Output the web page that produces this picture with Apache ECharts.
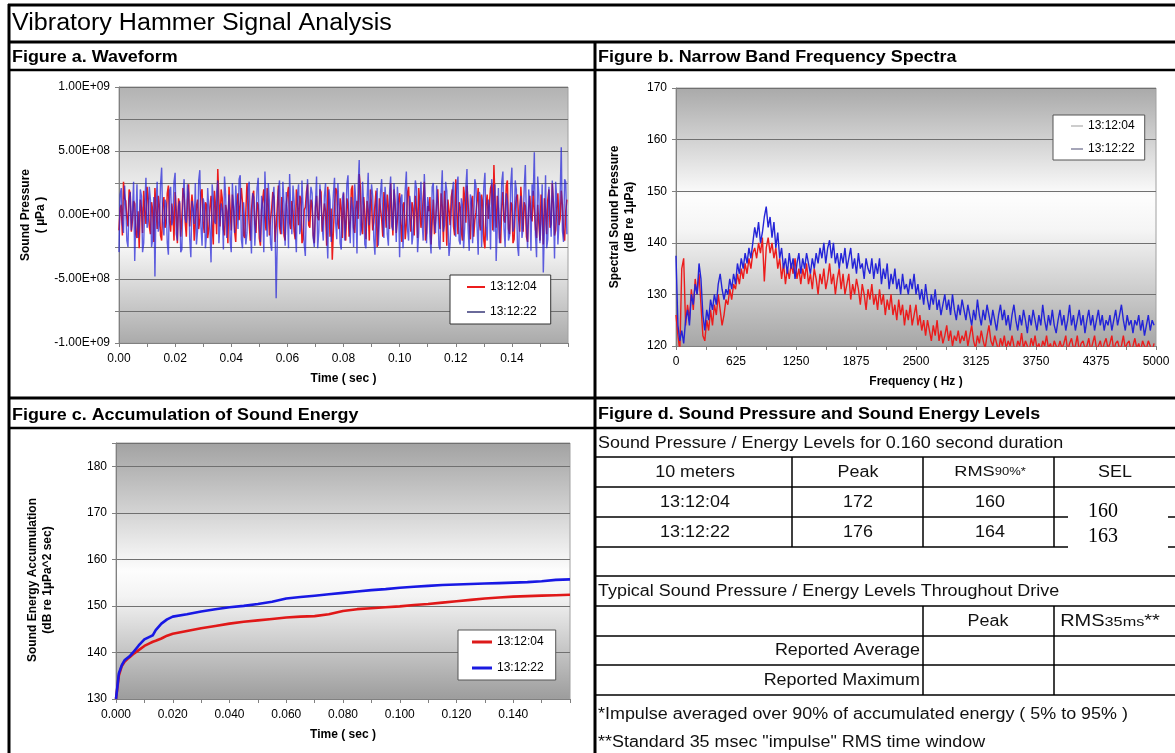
<!DOCTYPE html>
<html><head><meta charset="utf-8">
<script src="https://cdn.jsdelivr.net/npm/echarts@6/dist/echarts.min.js"></script>
<style>html,body{margin:0;padding:0;background:#fff;}#c{width:1175px;height:753px;}</style>
</head><body><div id="c"></div>
<script>
// ---------------- DATA ----------------
const seriesNames = ['13:12:04', '13:12:22'];

// Figure a: waveform, sound pressure in units of 1e8 µPa.
// Samples every 0.0004 s: "even" samples and the "mid" samples between them.
const waveDt = 0.0004;
const waveUnit = 1e8;
const waveRed = [
-1.2,0.8,2.6,1.1,-0.9,1.7,-0.4,0.9,-1.8,-2.6,0.6,1.9,-0.7,1.3,-1.5,0.4,2.1,-1.1,0.7,-2.0,
1.4,-0.6,2.3,-1.3,0.2,1.8,-2.2,0.9,-0.3,1.6,-1.7,2.4,-0.8,0.5,-1.9,1.2,-0.4,2.0,-1.4,0.8,
-1.1,1.5,-2.3,0.7,3.6,-0.9,1.3,-1.6,0.3,2.2,-1.2,0.6,-2.1,1.7,-0.5,1.0,-1.8,2.5,-0.7,0.4,
1.9,-1.4,0.8,-2.4,1.2,-0.3,2.1,-1.6,0.5,1.4,-0.9,2.3,-1.5,0.2,-2.0,1.6,-0.6,1.1,-1.3,2.0,
-0.8,1.3,-1.9,0.6,2.4,-1.0,0.9,-2.2,1.5,-0.4,1.8,-1.3,0.3,2.2,-1.7,-3.5,0.7,1.9,-1.1,0.5,
1.7,-2.0,0.9,-0.6,2.3,-1.4,1.1,3.2,-0.8,1.4,-1.9,0.4,2.0,-1.2,0.8,-2.5,1.3,-0.3,1.8,-1.0,
0.6,2.5,-1.6,0.9,-0.4,1.7,-2.1,1.0,-0.7,2.2,-1.3,0.5,1.5,-1.8,0.8,-0.2,2.6,-1.4,0.3,-2.3,
1.2,-0.5,2.0,-1.1,0.7,1.9,-2.4,0.4,1.4,-0.9,2.8,-1.5,0.6,-2.0,1.3,2.3,-0.8,1.0,-1.7,0.2,
2.1,-1.2,0.9,-2.6,1.6,-0.4,2.4,3.9,-1.0,0.5,-2.2,1.8,-0.6,2.7,-1.5,0.8,-1.9,1.4,-0.3,2.2,
-1.3,0.7,-2.1,1.5,-0.5,2.0,-1.8,0.9,1.6,-2.3,0.4,1.2,-1.0,2.5,-1.6,0.6,-0.8,1.9,-1.4,0.3
];
const waveRedMid = [
0.5,-1.6,1.3,-0.2,2.0,-1.3,1.1,-1.5,0.3,1.2,-1.4,0.2,2.2,-0.9,1.0,-2.1,0.5,1.5,-1.6,0.9,
-1.0,1.7,-0.5,0.9,-2.0,0.4,1.3,-1.7,2.1,-0.6,1.1,-0.9,1.6,-2.0,0.7,-1.1,1.8,-0.6,1.0,-1.8,
0.6,-0.8,1.9,-1.5,1.2,2.0,-1.1,0.8,-2.2,0.5,1.6,-1.3,0.9,-0.4,2.1,-1.6,0.3,1.1,-2.0,1.5,
-0.7,1.0,-1.8,0.4,2.0,-1.2,0.7,-0.3,1.8,-2.1,0.6,-0.9,1.4,-1.6,0.8,2.2,-1.1,0.3,-1.9,0.9,
1.5,-2.2,0.4,1.8,-0.8,1.2,-1.6,0.6,-0.2,2.0,-1.3,0.9,-2.4,1.0,0.5,-1.2,2.1,-0.7,1.3,-1.8,
-0.4,1.3,-1.7,2.0,-1.0,0.6,-0.3,2.2,-1.5,0.2,1.1,-2.0,0.8,-0.6,1.9,-1.2,0.4,-1.7,0.9,1.6,
-1.1,0.3,2.0,-1.4,1.2,-0.7,0.8,-1.9,1.7,-0.2,1.0,-1.6,0.5,2.1,-1.0,1.3,-2.0,0.7,1.4,-0.5,
-1.5,0.9,-0.3,1.7,-2.1,0.6,1.2,-0.8,2.0,-1.6,0.4,1.0,-1.3,2.2,-0.6,0.9,-1.9,1.5,-0.4,1.1,
-0.6,1.6,-2.0,0.8,-0.3,2.1,-1.2,0.9,1.5,-1.8,0.7,-0.4,2.3,-1.1,1.0,-2.2,0.5,1.6,-1.3,0.6,
1.0,-1.7,0.6,-0.2,1.9,-1.1,0.8,-2.0,0.4,1.3,-1.5,2.0,-0.7,0.9,-1.2,1.7,-0.3,0.8,-2.0,1.2
];
const waveBlue = [
-2.9,2.1,-1.4,0.6,-2.5,1.8,0.3,-3.6,2.4,-0.9,1.5,-2.2,2.9,-0.5,1.2,-1.9,-4.8,2.6,-0.8,3.7,
-1.6,0.9,-3.1,2.2,-0.4,3.3,-2.0,1.1,-2.7,2.8,-0.6,1.7,-3.3,0.5,2.5,-1.2,3.5,-2.4,0.8,-1.5,
2.0,-3.7,1.3,-0.7,2.7,-2.3,0.4,3.0,-1.8,1.6,-2.9,0.7,2.3,-1.1,3.1,-2.6,0.9,-1.4,2.6,-3.0,
1.4,-0.5,2.9,-2.1,0.6,3.4,-1.7,1.0,-2.8,2.2,-6.5,1.9,-0.8,2.6,-2.4,0.3,3.2,-1.5,1.1,-2.9,
2.4,-1.0,0.5,-3.2,2.8,-0.6,1.7,-2.5,3.0,-1.3,0.8,-2.0,2.5,-3.4,1.2,-0.4,2.9,-1.9,0.6,-2.7,
1.8,-0.9,3.1,-2.2,0.5,2.4,-3.0,4.3,-1.1,0.7,-2.6,3.3,-0.7,1.5,-3.1,2.1,-0.3,2.8,-1.8,0.9,
-2.4,3.0,-1.2,0.4,2.2,-3.3,1.6,-0.6,3.4,-2.0,0.8,-1.5,2.7,-2.9,1.0,-0.5,3.2,-2.2,0.6,-3.0,
2.5,-1.4,0.9,-2.7,3.5,-0.8,1.9,-3.2,0.4,2.6,-1.7,3.0,-2.3,0.7,-1.0,3.6,-2.8,1.2,-0.5,2.3,
-3.1,1.4,-0.7,3.3,-2.0,0.6,2.8,-1.3,-3.6,2.1,-0.4,3.4,-2.5,1.0,-1.6,3.7,-0.9,2.0,-3.2,1.5,
-1.0,3.9,-2.6,0.8,2.4,4.9,-3.3,1.6,-0.7,-4.5,3.1,-1.9,0.5,2.7,-3.4,1.3,-0.6,5.3,-2.1,2.6
];
const waveBlueMid = [
1.6,-0.7,2.3,-2.0,1.1,-1.2,2.6,-0.4,-1.8,2.0,-2.9,0.8,-1.0,2.2,-2.5,1.4,0.9,-1.3,2.4,-0.6,
1.2,-2.2,1.9,-0.8,2.6,-1.5,0.7,-2.9,1.5,-0.3,2.4,-1.9,1.1,-0.7,-2.3,2.7,-0.9,1.3,-2.6,2.1,
-1.1,2.4,-0.5,1.8,-2.2,0.9,-2.7,1.6,-0.2,-2.0,2.5,-1.4,0.6,2.8,-1.9,1.0,-2.3,2.1,-0.8,1.7,
-2.4,2.1,-1.0,1.5,-2.9,0.8,2.5,-2.2,1.2,-0.7,-2.1,2.7,-1.5,0.9,1.8,-2.6,0.4,2.3,-1.2,1.6,
-1.5,2.7,-2.3,1.1,-0.5,2.2,-1.8,0.9,-2.6,2.4,-0.9,1.5,-1.2,2.0,-2.1,1.7,-0.6,2.5,-2.2,1.3,
-2.0,2.4,-0.5,1.4,-2.5,1.0,2.1,-1.6,2.6,-2.3,1.2,-0.8,2.4,-1.9,0.7,-2.4,1.8,-0.6,2.2,-1.5,
1.7,-0.9,2.5,-2.1,0.8,1.3,-2.6,2.0,-1.1,1.5,-2.3,0.6,2.1,-1.4,2.6,-2.0,0.9,1.4,-1.7,2.2,
-0.7,2.3,-2.4,1.6,-1.3,2.6,-0.6,-2.2,1.9,-0.8,2.4,-2.0,1.3,-2.6,2.2,-1.1,1.6,-2.2,2.8,-0.9,
1.8,-2.5,2.2,-0.9,1.2,-2.7,1.5,2.4,-1.0,-2.2,2.6,-1.1,1.7,-2.0,2.4,-1.3,2.7,-2.4,0.7,-1.8,
2.2,-0.6,2.0,-2.8,1.5,-1.6,3.0,-2.2,2.4,-1.1,-2.6,2.2,-1.7,1.0,2.6,-2.3,1.6,-1.2,2.8,-1.5
];

// Figure b: narrow band spectra (dB re 1µPa), frequency step 20 Hz from 0 Hz
const specDf = 20;
const specRed = [
126,122,119,135,137,124,128,125,131,127,133,130,134,128,122,121,125,123,127,124,128,126,130,127,124,
126,129,128,131,129,132,131,134,132,135,133,136,134,137,135,138,139,137,140,138,141,132.5,139,141,138,
140,137,139,135,137,133,136,132,135,133,136,134,137,133,135,132,135,133,136,132,134,131,135,133,130,
134,132,135,131,133,136,132,134,130,133,135,131,134,130,132,134,129,132,130,133,131,128,132,130,127,
131,129,132,128,130,127,131,128,130,126,129,127,130,126,128,125,129,126,128,124,127,125,128,124,126,
128,124,126,123,125,122,125,123,121,124,122,125,121,123,120.5,122,124,121,123,120,122,121,123,120.5,122,
121,123,120,122,124,121,119.5,122,120.5,123,121,119.5,122,124,121,120,122,120.5,119,121.5,120,122,119.5,121,120,
122,120,119,121,120,122.5,119.5,121,120,119,121.5,120,122,119.5,120.5,119,121,120,122,119.5,120.5,119,121,120,119.5,
121,119.5,120.5,122,119,120.5,121.5,119.5,120,122,119,120.5,121,119.5,120,121.5,119,120.5,122,119.5,120,121,119,120.5,121.5,
119.5,120.5,122,119,120.5,121,119.5,120,122,119.5,120.5,121,119,120,121.5,119.5,120.5,119,121,120,119.5,121,120,119,120.5
];
const specBlue = [
137.5,124,121,123,120.5,125,127,124,130,128,132,130,136,133,126,123,127,125,129,127,130,128,132,134,131,
129,131,130,133,131,134,132,136,134,137,135,138,136,139,137,140,143,141,144,140,142,145,147,143,145,
141,144,139,142,137,139,135,137,134,138,135,137,133,136,138,134,137,135,138,136,134,137,135,138,136,
139,137,140,136,139,140.5,137,140,136,138,135,138,136,139,135,137,139,135,137,134,138,135,136,133,137,
135,134,137,133,136,134,137,132,135,133,136,131,134,132,135,131,133,130,134,131,132,130,133,131,134,
130,132,129,131,128,132,129,127,130,128,131,127,129,126,128,130,127,129,126,130,127,125,128,126,129,
127,125,128,126,124,127,125,129,126,124,127,125,128,126,124,127,125,123,126,128,125,127,124,126,123,
126,128,125,123,126,124,127,125,122.5,126,124,127,125,123,126,124,128,125,123,126,124,127,124,122.5,125,
127,124,126,123,125,128,124,126,123,125,127,124,126,122.5,125,127,124,126,123,125,127,124,126,123,125,
124,126,123,125,127,124,126,128,125,123,126,124,125,122.5,125,124,126,123,125,122,124,126,123,125,124
];

// Figure c: accumulated sound energy (dB re 1µPa^2 sec)
const energyTime = [0,0.001,0.002,0.003,0.004,0.005,0.006,0.008,0.010,0.012,0.013,0.014,0.016,0.018,0.020,
0.025,0.030,0.035,0.040,0.045,0.050,0.055,0.060,0.065,0.070,0.075,0.080,0.085,0.090,0.095,0.100,
0.105,0.110,0.115,0.120,0.125,0.130,0.135,0.140,0.145,0.150,0.155,0.160];
const energyRed = [130,135,137,138,138.6,139.1,139.6,140.5,141.4,142.0,142.3,142.5,143.0,143.6,144.0,
144.6,145.2,145.7,146.2,146.6,146.9,147.2,147.5,147.7,147.8,148.2,148.9,149.3,149.5,149.7,149.9,
150.2,150.4,150.7,151.0,151.3,151.6,151.8,152.0,152.1,152.2,152.3,152.4];
const energyBlue = [130,135.5,137.2,138.3,138.8,139.3,140.0,141.5,142.8,143.4,143.7,144.8,146.2,147.1,147.7,
148.2,148.8,149.3,149.7,150.0,150.4,150.9,151.6,151.9,152.2,152.5,152.8,153.1,153.4,153.6,153.9,
154.1,154.3,154.5,154.6,154.7,154.8,154.9,155.0,155.1,155.3,155.6,155.7];

// Figure d: table
const tableDuration = '0.160';
const tableHeader = ['10 meters', 'Peak', 'RMS', 'SEL'];
const tableRowNames = ['13:12:04', '13:12:22'];
const tablePeak = ['172', '176'];
const tableRms = ['160', '164'];
const tableSel = ['160', '163'];

// ---------------- CHART ----------------
const FF = '"Liberation Sans", Arial, sans-serif';
const RED = '#ec1c1c', BLUE = '#2424d8';
const chart = echarts.init(document.getElementById('c'), null, {renderer: 'canvas'});

function grad(stops) {
  return {type: 'linear', x: 0, y: 0, x2: 0, y2: 1, colorStops: stops.map(s => ({offset: s[0], color: s[1]}))};
}
function expFmt(v) {
  if (Math.abs(v) < 1) return '0.00E+00';
  const e = Math.floor(Math.log10(Math.abs(v)) + 1e-9);
  const m = v / Math.pow(10, e);
  return m.toFixed(2) + 'E+' + String(e).padStart(2, '0');
}
function interleave(a, b) {
  const out = [];
  for (let i = 0; i < a.length; i++) {
    out.push([2 * i * waveDt, a[i] * waveUnit]);
    out.push([(2 * i + 1) * waveDt, b[i] * waveUnit]);
  }
  return out;
}
function xAxis(gi, min, max, interval, fmt, name) {
  return {type: 'value', gridIndex: gi, min, max, interval, name, nameLocation: 'middle', nameGap: 30,
    nameTextStyle: {fontWeight: 'bold', fontSize: 12, color: '#000', fontFamily: FF},
    axisLine: {show: true, onZero: false, lineStyle: {color: '#808080', width: 1}},
    axisTick: {show: true, length: 4, lineStyle: {color: '#808080'}},
    axisLabel: {formatter: fmt, fontSize: 12, color: '#000', margin: 10, fontFamily: FF},
    splitLine: {show: false}};
}
function yAxis(gi, min, max, interval, fmt, name, gap, pad) {
  return {type: 'value', gridIndex: gi, min, max, interval, name, nameLocation: 'middle', nameGap: gap, nameRotate: 90,
    nameTextStyle: {fontWeight: 'bold', fontSize: 12, lineHeight: 15, color: '#000', fontFamily: FF, padding: pad || 0},
    axisLine: {show: true, onZero: false, lineStyle: {color: '#808080', width: 1}},
    axisTick: {show: true, length: 4, lineStyle: {color: '#808080'}},
    axisLabel: {formatter: fmt, fontSize: 12, color: '#000', margin: 9, fontFamily: FF},
    splitLine: {show: true, lineStyle: {color: '#707070', width: 1}}};
}
function legend(left, top, iw, ih, gap, pad, colors, border) {
  return {left, top, orient: 'vertical', icon: 'rect', itemWidth: iw, itemHeight: ih, itemGap: gap, padding: pad,
    borderColor: border, borderWidth: 1, backgroundColor: '#fff', selectedMode: false,
    textStyle: {fontSize: 12, color: '#000', fontFamily: FF},
    data: seriesNames.map((n, i) => ({name: n, itemStyle: {color: colors[i]}}))};
}
function L(x1, y1, x2, y2, w) {
  return {type: 'line', silent: true, z: 100, shape: {x1, y1, x2, y2}, style: {stroke: '#000', lineWidth: w || 1.5}};
}
function T(text, x, y, size, o) {
  o = o || {};
  const st = {text, fill: o.color || '#111', font: (o.bold ? 'bold ' : '') + size + 'px ' + (o.family || FF),
    textAlign: o.align || 'left', align: o.align || 'left', textVerticalAlign: 'middle', verticalAlign: 'middle'};
  if (o.rich) st.rich = o.rich;
  return {type: 'text', silent: true, z: 101, x, y, scaleX: o.sx || 1, style: st};
}

const hdrSX = 1.12, tSX = 1.12;
const graphics = [
  // frame
  L(8, 5, 1175, 5, 3), L(9, 4, 9, 753, 3), L(8, 42, 1175, 42, 3), L(8, 70, 1175, 70, 2.5),
  L(595, 42, 595, 753, 3), L(8, 398, 1175, 398, 3), L(8, 428, 1175, 428, 2.5),
  T('Vibratory Hammer Signal Analysis', 12, 24, 23, {sx: 1.09, color: '#000'}),
  T('Figure a. Waveform', 12, 58, 16, {bold: true, sx: hdrSX, color: '#000'}),
  T('Figure b. Narrow Band Frequency Spectra', 598, 58, 16, {bold: true, sx: hdrSX, color: '#000'}),
  T('Figure c. Accumulation of Sound Energy', 12, 416, 16, {bold: true, sx: hdrSX, color: '#000'}),
  T('Figure d. Sound Pressure and Sound Energy Levels', 598, 415, 16, {bold: true, sx: hdrSX, color: '#000'}),
  // table 1
  T('Sound Pressure / Energy Levels for ' + tableDuration + ' second duration', 598, 444, 16, {sx: tSX}),
  L(595, 457, 1175, 457), L(595, 487, 1175, 487),
  L(595, 517, 1068, 517), L(1168, 517, 1175, 517),
  L(595, 547, 1068, 547), L(1168, 547, 1175, 547),
  L(792, 457, 792, 547), L(923, 457, 923, 547), L(1054, 457, 1054, 547),
  T(tableHeader[0], 695, 473, 16, {align: 'center', sx: tSX}),
  T(tableHeader[1], 858, 473, 16, {align: 'center', sx: tSX}),
  T('{a|' + tableHeader[2] + '}{b|90%*}', 990, 472, 14, {align: 'center', sx: 1.3,
    rich: {a: {fontSize: 14, fontFamily: FF, fill: '#111'}, b: {fontSize: 10, fontFamily: FF, fill: '#111'}}}),
  T(tableHeader[3], 1115, 473, 16, {align: 'center', sx: tSX}),
  T(tableRowNames[0], 695, 503, 16, {align: 'center', sx: tSX}),
  T(tablePeak[0], 858, 503, 16, {align: 'center', sx: tSX}),
  T(tableRms[0], 990, 503, 16, {align: 'center', sx: tSX}),
  T(tableRowNames[1], 695, 533, 16, {align: 'center', sx: tSX}),
  T(tablePeak[1], 858, 533, 16, {align: 'center', sx: tSX}),
  T(tableRms[1], 990, 533, 16, {align: 'center', sx: tSX}),
  T(tableSel[0], 1088, 512, 20, {family: '"Liberation Serif", "Times New Roman", serif', color: '#000'}),
  T(tableSel[1], 1088, 537, 20, {family: '"Liberation Serif", "Times New Roman", serif', color: '#000'}),
  // table 2
  L(595, 576, 1175, 576), L(595, 606, 1175, 606), L(595, 636, 1175, 636), L(595, 665, 1175, 665), L(595, 695, 1175, 695),
  L(923, 606, 923, 695), L(1054, 606, 1054, 695),
  T('Typical Sound Pressure / Energy Levels Throughout Drive', 598, 592, 16, {sx: tSX}),
  T(tableHeader[1], 988, 622, 16, {align: 'center', sx: tSX}),
  T('{a|RMS}{b|35ms}{a|**}', 1110, 622, 16, {align: 'center', sx: 1.25,
    rich: {a: {fontSize: 16, fontFamily: FF, fill: '#111'}, b: {fontSize: 13, fontFamily: FF, fill: '#111'}}}),
  T('Reported Average', 920, 651, 16, {align: 'right', sx: tSX}),
  T('Reported Maximum', 920, 681, 16, {align: 'right', sx: tSX}),
  T('*Impulse averaged over 90% of accumulated energy ( 5% to 95% )', 598, 715, 16, {sx: tSX}),
  T('**Standard 35 msec "impulse" RMS time window', 598, 743, 16, {sx: tSX})
];

const option = {
  animation: false,
  backgroundColor: '#fff',
  textStyle: {fontFamily: FF},
  grid: [
    {left: 119, top: 87, width: 449, height: 256, show: true, borderColor: '#a0a0a0', borderWidth: 1,
      backgroundColor: grad([[0, '#b2b2b2'], [0.5, '#fdfdfd'], [0.62, '#f7f7f7'], [1, '#aaaaaa']]), outerBoundsMode: 'none'},
    {left: 676, top: 88, width: 480, height: 258, show: true, borderColor: '#a0a0a0', borderWidth: 1,
      backgroundColor: grad([[0, '#a9a9a9'], [0.42, '#fdfdfd'], [0.55, '#f5f5f5'], [1, '#a6a6a6']]), outerBoundsMode: 'none'},
    {left: 116, top: 443, width: 454, height: 256, show: true, borderColor: '#a0a0a0', borderWidth: 1,
      backgroundColor: grad([[0, '#a2a2a2'], [0.5, '#fdfdfd'], [0.6, '#f3f3f3'], [1, '#9c9c9c']]), outerBoundsMode: 'none'}
  ],
  xAxis: [
    xAxis(0, 0, 0.16, 0.01, v => { const k = Math.round(v * 100); return (k % 2 === 0 && k < 16) ? v.toFixed(2) : ''; }, 'Time ( sec )'),
    xAxis(1, 0, 5000, 312.5, v => { const k = Math.round(v / 312.5); return k % 2 === 0 ? String(Math.round(v)) : ''; }, 'Frequency ( Hz )'),
    xAxis(2, 0, 0.16, 0.01, v => { const k = Math.round(v * 100); return (k % 2 === 0 && k < 16) ? v.toFixed(3) : ''; }, 'Time ( sec )')
  ],
  yAxis: [
    yAxis(0, -1e9, 1e9, 2.5e8, v => (Math.round(v / 2.5e8) % 2 === 0 ? expFmt(v) : ''), 'Sound Pressure\n( µPa )', 71),
    yAxis(1, 120, 170, 10, v => String(v), 'Spectral Sound Pressure\n(dB re 1µPa)', 39),
    yAxis(2, 130, 185, 10, v => (v > 180.5 ? '' : String(v)), 'Sound Energy Accumulation\n(dB re 1µPa^2 sec)', 61, [0, 18, 0, 0])
  ],
  legend: [
    legend(450, 275, 18, 2, 13, [6, 14, 6, 17], ['#ec1c1c', '#6a6a9a'], '#333'),
    legend(1053, 115, 12, 1, 11, [5, 10, 5, 18], ['#9a9a9a', '#4a4a70'], '#555'),
    legend(458, 630, 20, 3, 14, [6, 12, 6, 14], ['#dd1a1a', '#1a1ae0'], '#555')
  ],
  series: [
    {type: 'line', name: seriesNames[0], xAxisIndex: 0, yAxisIndex: 0, symbol: 'none', silent: true,
      lineStyle: {color: RED, width: 1.5}, itemStyle: {color: RED},
      data: interleave(waveRed, waveRedMid)},
    {type: 'line', name: seriesNames[1], xAxisIndex: 0, yAxisIndex: 0, symbol: 'none', silent: true,
      lineStyle: {color: BLUE, width: 1.4, opacity: 0.72}, itemStyle: {color: BLUE},
      data: interleave(waveBlue, waveBlueMid)},
    {type: 'line', name: seriesNames[0], xAxisIndex: 1, yAxisIndex: 1, symbol: 'none', silent: true,
      lineStyle: {color: RED, width: 1.4}, itemStyle: {color: RED},
      data: specRed.map((v, i) => [i * specDf, v])},
    {type: 'line', name: seriesNames[1], xAxisIndex: 1, yAxisIndex: 1, symbol: 'none', silent: true,
      lineStyle: {color: BLUE, width: 1.4}, itemStyle: {color: BLUE},
      data: specBlue.map((v, i) => [i * specDf, v])},
    {type: 'line', name: seriesNames[0], xAxisIndex: 2, yAxisIndex: 2, symbol: 'none', silent: true,
      lineStyle: {color: '#e01818', width: 2.6}, itemStyle: {color: '#e01818'},
      data: energyTime.map((t, i) => [t, energyRed[i]])},
    {type: 'line', name: seriesNames[1], xAxisIndex: 2, yAxisIndex: 2, symbol: 'none', silent: true,
      lineStyle: {color: '#1818e4', width: 2.6}, itemStyle: {color: '#1818e4'},
      data: energyTime.map((t, i) => [t, energyBlue[i]])}
  ],
  graphic: {elements: graphics}
};
chart.setOption(option);
</script>
</body></html>
